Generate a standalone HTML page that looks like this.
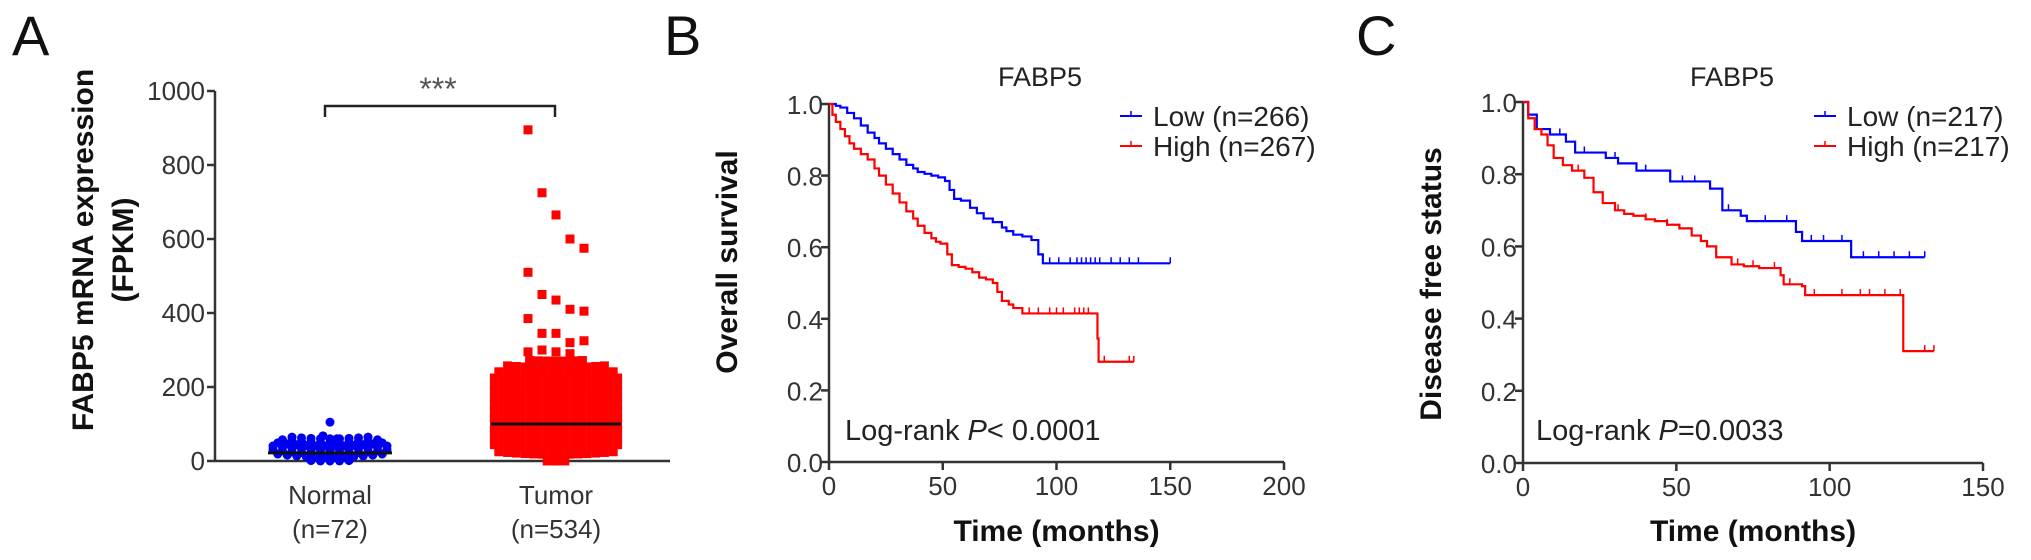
<!DOCTYPE html>
<html><head><meta charset="utf-8"><style>
html,body{margin:0;padding:0;background:#fff;}
svg{display:block;font-family:"Liberation Sans",Arial,sans-serif;}
.tk{font-size:26px;fill:#333;}
.bt{font-weight:bold;fill:#111;}
</style></head><body>
<svg id="fig" width="2031" height="560" viewBox="0 0 2031 560" xmlns="http://www.w3.org/2000/svg">
<text x="12" y="55" font-size="56" fill="#111">A</text>
<text x="664" y="55" font-size="56" fill="#111">B</text>
<text x="1356" y="55" font-size="56" fill="#111">C</text>
<g id="pa"></g>
<g id="pb"></g>
<g id="pc"></g>
</svg>
<script>
// ---- Panel A data ----
const groupLabels = ["Normal", "Tumor"];
const groupN = ["(n=72)", "(n=534)"];
const aTicks = [0, 200, 400, 600, 800, 1000];
const normalBinValues = [0, 10, 20, 30, 40, 50, 60];
const normalBinCounts = [5, 12, 13, 13, 12, 11, 9];
const normalOutliers = [105, 68, 60];
const normalMedian = 22;
const tumorBinValues = [0, 18, 36, 54, 72, 90, 108, 126, 144, 162, 180, 198, 216, 234, 252, 270];
const tumorBinCounts = [3, 14, 15, 15, 15, 15, 15, 15, 15, 15, 15, 15, 15, 14, 12, 7];
const tumorOutliers = [895, 725, 665, 600, 575, 510, 450, 435, 410, 405, 385, 345, 345, 320, 325, 295, 300, 295, 290];
const tumorMedian = 100;

// ---- Panel B data ----
const bXTicks = [0, 50, 100, 150, 200];
const kmTicks = [0, 0.2, 0.4, 0.6, 0.8, 1.0];
const bLowT = [0, 3, 5, 8, 11, 14, 17, 20, 22, 25, 28, 31, 34, 37, 39, 42, 45, 48, 51, 53, 55, 58, 62, 65, 68, 72, 76, 78, 81, 85, 89, 92, 94, 150];
const bLowS = [1.0, 0.995, 0.99, 0.975, 0.96, 0.94, 0.92, 0.905, 0.89, 0.875, 0.86, 0.845, 0.83, 0.82, 0.81, 0.805, 0.80, 0.795, 0.785, 0.76, 0.735, 0.73, 0.71, 0.695, 0.68, 0.67, 0.655, 0.645, 0.635, 0.63, 0.62, 0.58, 0.555, 0.555];
const bLowCens = [97, 101, 106, 109, 111, 113, 115, 117, 119, 124, 128, 132, 136, 150];
const bHighT = [0, 1.5, 3, 5, 7, 9, 11, 14, 17, 20, 22, 25, 28, 31, 34, 37, 39, 42, 45, 47, 49, 52, 54, 57, 60, 63, 66, 69, 72, 74, 76, 79, 81, 85, 117, 118, 118.5, 134];
const bHighS = [1.0, 0.97, 0.95, 0.93, 0.91, 0.89, 0.875, 0.86, 0.845, 0.82, 0.80, 0.775, 0.75, 0.725, 0.70, 0.68, 0.66, 0.64, 0.625, 0.615, 0.61, 0.58, 0.55, 0.545, 0.54, 0.53, 0.515, 0.51, 0.50, 0.475, 0.45, 0.44, 0.43, 0.415, 0.415, 0.345, 0.28, 0.28];
const bHighCens = [88, 92, 97, 100, 103, 108, 110, 112, 114, 121, 132, 134];

// ---- Panel C data ----
const cXTicks = [0, 50, 100, 150];
const cLowT = [0, 1.7, 4.5, 8.8, 14, 17, 27, 31, 37, 43, 48, 61, 65, 71, 73, 88, 89, 91, 106, 107, 131];
const cLowS = [1.0, 0.965, 0.925, 0.91, 0.89, 0.86, 0.845, 0.83, 0.81, 0.81, 0.78, 0.76, 0.70, 0.685, 0.67, 0.67, 0.64, 0.615, 0.615, 0.57, 0.57];
const cLowCens = [12, 20, 30, 40, 52, 56, 67, 79, 86, 94, 98, 104, 111, 116, 121, 126, 131];
const cHighT = [0, 1.7, 3.8, 6, 8, 10, 13, 16, 20, 23, 26, 30, 33, 36, 40, 43, 47, 51, 55, 58, 60, 63, 68, 72, 77, 84, 85, 91, 92, 123, 124, 134];
const cHighS = [1.0, 0.955, 0.925, 0.91, 0.88, 0.845, 0.825, 0.81, 0.79, 0.75, 0.72, 0.70, 0.69, 0.685, 0.675, 0.67, 0.66, 0.65, 0.63, 0.615, 0.60, 0.57, 0.55, 0.545, 0.54, 0.52, 0.495, 0.49, 0.465, 0.465, 0.31, 0.31];
const cHighCens = [18, 31, 40, 47, 58, 70, 75, 82, 87, 95, 104, 110, 113, 118, 123, 131, 134];

const NS = "http://www.w3.org/2000/svg";
function mk(parent, tag, attrs, text) {
  const e = document.createElementNS(NS, tag);
  for (const k in attrs) e.setAttribute(k, attrs[k]);
  if (text !== undefined) e.textContent = text;
  parent.appendChild(e);
  return e;
}

// ===== Panel A =====
(function () {
  const g = document.getElementById('pa');
  const x0 = 215, y0 = 461, yTop = 91;
  const ay = v => y0 - (v / 1000) * (y0 - yTop);
  const centers = [330, 556];
  const ax = i => centers[i];
  const yl = mk(g, 'line', { x1: x0, y1: yTop, x2: x0, y2: y0, stroke: '#333', 'stroke-width': 2.5 });
   
  const xl = mk(g, 'line', { x1: x0, y1: y0, x2: 670, y2: y0, stroke: '#333', 'stroke-width': 2.5 });
   
  aTicks.forEach(v => {
    mk(g, 'line', { x1: x0 - 8, y1: ay(v), x2: x0, y2: ay(v), stroke: '#333', 'stroke-width': 2.5 });
    const t = mk(g, 'text', { x: x0 - 10, y: ay(v) + 9, 'text-anchor': 'end', class: 'tk' }, String(v));
     
  });
  groupLabels.forEach((l, i) => {
    const t = mk(g, 'text', { x: ax(i), y: 504, 'text-anchor': 'middle', class: 'tk' }, l);
     
    const n = mk(g, 'text', { x: ax(i), y: 538, 'text-anchor': 'middle', class: 'tk' }, groupN[i]);
     
  });
  const yt = mk(g, 'text', { transform: 'translate(93,250) rotate(-90)', 'text-anchor': 'middle', class: 'bt', 'font-size': 30 }, 'FABP5 mRNA expression');
   
  const yt2 = mk(g, 'text', { transform: 'translate(133,250) rotate(-90)', 'text-anchor': 'middle', class: 'bt', 'font-size': 30 }, '(FPKM)');
   
  normalBinValues.forEach((v, j) => {
    const n = normalBinCounts[j];
    for (let i = 0; i < n; i++) {
      const dx = (i - (n - 1) / 2) * 9.5;
      const c = mk(g, 'circle', { cx: ax(0) + dx, cy: ay(v) - dx * dx * 0.0012, r: 4.5, fill: '#0000ee' });
       
    }
  });
  normalOutliers.forEach((v, i) => {
    const c = mk(g, 'circle', { cx: ax(0) + (i === 0 ? 0 : (i === 1 ? -7 : 7)), cy: ay(v), r: 4.5, fill: '#0000ee' });
     
  });
  tumorBinValues.forEach((v, j) => {
    const n = tumorBinCounts[j];
    for (let i = 0; i < n; i++) {
      const dx = (i - (n - 1) / 2) * 8.8;
      const r = mk(g, 'rect', { x: ax(1) + dx - 4.5, y: ay(v) - 4.5 - dx * dx * 0.0008, width: 9, height: 9, fill: '#ff0000' });
       
    }
  });
  tumorOutliers.forEach((v, i) => {
    const off = ((i % 5) - 2) * 14;
    const r = mk(g, 'rect', { x: ax(1) + off - 4.5, y: ay(v) - 4.5, width: 9, height: 9, fill: '#ff0000' });
     
  });
  const m1 = mk(g, 'line', { x1: ax(0) - 62, x2: ax(0) + 62, y1: ay(normalMedian), y2: ay(normalMedian), stroke: '#111', 'stroke-width': 3 });
   
  const m2 = mk(g, 'line', { x1: ax(1) - 65, x2: ax(1) + 65, y1: ay(tumorMedian), y2: ay(tumorMedian), stroke: '#111', 'stroke-width': 3 });
   
  const br = mk(g, 'path', { d: `M${ax(0) - 5},117 V106 H${ax(1) - 1} V117`, fill: 'none', stroke: '#222', 'stroke-width': 2.5 });
   
  const st = mk(g, 'text', { x: 438, y: 100, 'text-anchor': 'middle', 'font-size': 32, fill: '#555' }, '***');
   
})();

// ===== KM panels =====
function km(gid, cfg) {
  const g = document.getElementById(gid);
  const { x0, x1, y0, y1, xmax } = cfg;
  const sx = t => x0 + (t / xmax) * (x1 - x0);
  const sy = s => y0 - s * (y0 - y1);
  const ya = mk(g, 'line', { x1: x0, y1: y1, x2: x0, y2: y0, stroke: '#333', 'stroke-width': 2.5 });
   
  const xa = mk(g, 'line', { x1: x0, y1: y0, x2: x1, y2: y0, stroke: '#333', 'stroke-width': 2.5 });
   
  kmTicks.forEach(v => {
    mk(g, 'line', { x1: x0 - 8, y1: sy(v), x2: x0, y2: sy(v), stroke: '#333', 'stroke-width': 2.5 });
    const t = mk(g, 'text', { x: x0 - 6, y: sy(v) + 10, 'text-anchor': 'end', class: 'tk', 'font-size': 28 }, v.toFixed(1));
     
  });
  cfg.xticks.forEach(v => {
    mk(g, 'line', { x1: sx(v), y1: y0, x2: sx(v), y2: y0 + 8, stroke: '#333', 'stroke-width': 2.5 });
    const t = mk(g, 'text', { x: sx(v), y: y0 + 33, 'text-anchor': 'middle', class: 'tk', 'font-size': 28 }, String(v));
     
  });
  const xt = mk(g, 'text', { x: (x0 + x1) / 2, y: 541, 'text-anchor': 'middle', class: 'bt', 'font-size': 30 }, 'Time (months)');
   
  const yt = mk(g, 'text', { transform: `translate(${cfg.ytx},${cfg.yty}) rotate(-90)`, 'text-anchor': 'middle', class: 'bt', 'font-size': 30 }, cfg.ytitle);
   
  const tt = mk(g, 'text', { x: cfg.titleX, y: 86, 'text-anchor': 'middle', 'font-size': 27, fill: '#222' }, 'FABP5');
   
  function step(T, S) {
    let d = `M${sx(T[0])},${sy(S[0])}`;
    for (let i = 1; i < T.length; i++) d += ` H${sx(T[i])} V${sy(S[i])}`;
    return d;
  }
  function survAt(T, S, t) { let s = S[0]; for (let i = 0; i < T.length; i++) if (T[i] <= t) s = S[i]; return s; }
  cfg.series.forEach(se => {
    const p = mk(g, 'path', { d: step(se.t, se.s), fill: 'none', stroke: se.color, 'stroke-width': 2.2 });
     
    se.c.forEach(t => {
      const y = sy(survAt(se.t, se.s, t));
      const m = mk(g, 'line', { x1: sx(t), x2: sx(t), y1: y, y2: y - 6, stroke: se.color, 'stroke-width': 1.5 });
       
    });
  });
  cfg.series.forEach((se, i) => {
    const ly = 116 + i * 30;
    const l = mk(g, 'line', { x1: cfg.legX, x2: cfg.legX + 22, y1: ly, y2: ly, stroke: se.color, 'stroke-width': 2 });
     
    mk(g, 'line', { x1: cfg.legX + 11, x2: cfg.legX + 11, y1: ly, y2: ly - 5, stroke: se.color, 'stroke-width': 1.5 });
    const t = mk(g, 'text', { x: cfg.legX + 33, y: ly + 10, 'font-size': 28, fill: '#222' }, se.label);
     
  });
  const lr = mk(g, 'text', { x: cfg.lrX, y: 440, 'font-size': 29, fill: '#222' });
   
  mk(lr, 'tspan', {}, 'Log-rank ');
  mk(lr, 'tspan', { 'font-style': 'italic' }, 'P');
  mk(lr, 'tspan', {}, cfg.pText);
}
km('pb', {
  x0: 829, x1: 1284, y0: 462, y1: 104, xmax: 200, xticks: bXTicks, ytitle: 'Overall survival', ytx: 737, yty: 262,
  titleX: 1040, legX: 1120, lrX: 845, pText: '< 0.0001',
  series: [
    { name: 'low', label: 'Low (n=266)', color: '#0000ff', t: bLowT, s: bLowS, c: bLowCens },
    { name: 'high', label: 'High (n=267)', color: '#ff0000', t: bHighT, s: bHighS, c: bHighCens }
  ]
});
km('pc', {
  x0: 1523, x1: 1983, y0: 463, y1: 102, xmax: 150, xticks: cXTicks, ytitle: 'Disease free status', ytx: 1441, yty: 284,
  titleX: 1732, legX: 1814, lrX: 1536, pText: '=0.0033',
  series: [
    { name: 'low', label: 'Low (n=217)', color: '#0000ff', t: cLowT, s: cLowS, c: cLowCens },
    { name: 'high', label: 'High (n=217)', color: '#ff0000', t: cHighT, s: cHighS, c: cHighCens }
  ]
});
</script>
</body></html>
